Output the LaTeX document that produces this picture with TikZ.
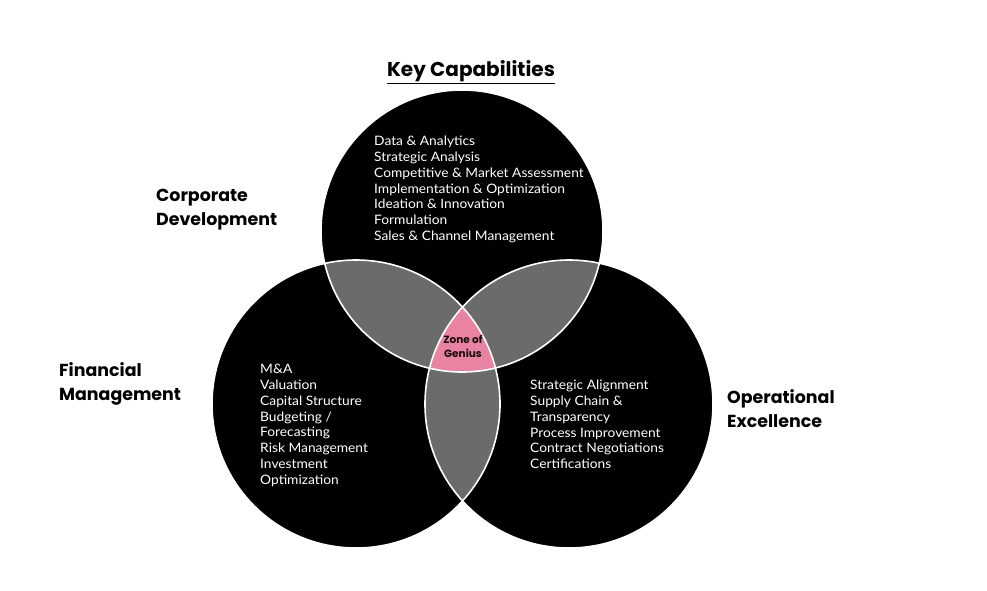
\documentclass[tikz,border=0pt]{standalone}
\usepackage{fontspec}
\setmainfont{Lato}[FakeStretch=1.06]
\newfontfamily\headfont{Poppins}
\begin{document}
\begin{tikzpicture}[x=1pt,y=-1pt,
  listtxt/.style={anchor=north west,inner sep=0pt,align=left,text=white,font=\fontsize{13}{15.8}\selectfont},
  headtxt/.style={anchor=north west,inner sep=0pt,align=left,text=black,font=\headfont\bfseries\fontsize{17.4}{24}\selectfont},
  outline/.style={draw=white,line width=1.6pt}]
\definecolor{lensgrey}{HTML}{6B6B6B}
\definecolor{zonepink}{HTML}{E883A1}
\definecolor{zonetext}{HTML}{1A0A10}
\useasboundingbox (0,0) rectangle (987,590);
\fill[white] (0,0) rectangle (987,590);
% circles
\def\rT{141}\def\rL{144}\def\rR{144}
\coordinate (cT) at (462,231);
\coordinate (cL) at (356,404);
\coordinate (cR) at (569,404);
\fill[black] (cT) circle[radius=\rT];
\fill[black] (cL) circle[radius=\rL];
\fill[black] (cR) circle[radius=\rR];
\begin{scope}
  \clip (cT) circle[radius=\rT];
  \fill[lensgrey] (cL) circle[radius=\rL];
  \fill[lensgrey] (cR) circle[radius=\rR];
\end{scope}
\begin{scope}
  \clip (cL) circle[radius=\rL];
  \fill[lensgrey] (cR) circle[radius=\rR];
\end{scope}
\begin{scope}
  \clip (cT) circle[radius=\rT];
  \clip (cL) circle[radius=\rL];
  \fill[zonepink] (cR) circle[radius=\rR];
\end{scope}
\draw[outline] (cT) circle[radius=\rT];
\draw[outline] (cL) circle[radius=\rL];
\draw[outline] (cR) circle[radius=\rR];
% title
\node[anchor=north,inner sep=0pt,font=\headfont\bfseries\fontsize{20}{24}\selectfont] (title) at (471,60) {\underline{Key Capabilities}};
% headings
\node[headtxt] (corp) at (156,189) {Corporate\\Development};
\node[headtxt] (fin) at (59,362) {Financial\\Management};
\node[headtxt] (ops) at (727,389) {Operational\\Excellence};
% lists
\node[listtxt] (toplist) at (374,136) {Data \& Analytics\\Strategic Analysis\\Competitive \& Market Assessment\\Implementation \& Optimization\\Ideation \& Innovation\\Formulation\\Sales \& Channel Management};
\node[listtxt] (leftlist) at (260,364) {M\&A\\Valuation\\Capital Structure\\Budgeting /\\Forecasting\\Risk Management\\Investment\\Optimization};
\node[listtxt] (rightlist) at (530,380) {Strategic Alignment\\Supply Chain \&\\Transparency\\Process Improvement\\Contract Negotiations\\Certifications};
% zone
\node[anchor=north,inner sep=0pt,align=center,text=zonetext,font=\headfont\bfseries\fontsize{10.5}{14}\selectfont] (zone) at (463,335) {Zone of\\Genius};
\end{tikzpicture}
\end{document}
